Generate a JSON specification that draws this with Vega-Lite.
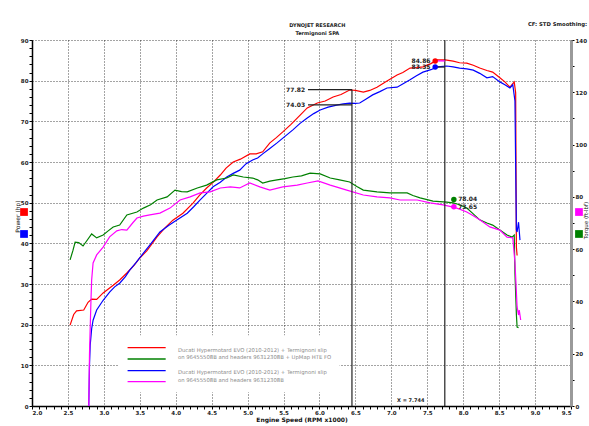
{
  "$schema": "https://vega.github.io/schema/vega-lite/v6.json",
  "width": 539,
  "height": 366,
  "autosize": {"type": "none"},
  "padding": {"left": 32, "top": 40, "right": 18, "bottom": 20},
  "background": "#ffffff",
  "config": {
    "view": {"stroke": null},
    "font": "DejaVu Sans",
    "axis": {
      "labelFont": "DejaVu Sans",
      "labelFontWeight": "bold",
      "labelFontSize": 5.5,
      "labelColor": "#222",
      "titleFont": "DejaVu Sans",
      "titleFontWeight": "bold",
      "titleFontSize": 6,
      "titleColor": "#111",
      "tickColor": "#000",
      "labelOverlap": false
    }
  },
  "datasets": {
    "curves": [
      {"rpm": 2.53, "v": 19.9, "s": "R"}, {"rpm": 2.58, "v": 22.5, "s": "R"}, {"rpm": 2.62, "v": 23.4, "s": "R"}, {"rpm": 2.72, "v": 23.6, "s": "R"}, {"rpm": 2.78, "v": 25.5, "s": "R"}, {"rpm": 2.83, "v": 26.3, "s": "R"}, {"rpm": 2.9, "v": 26.2, "s": "R"}, {"rpm": 2.99, "v": 27.8, "s": "R"}, {"rpm": 3.13, "v": 29.7, "s": "R"}, {"rpm": 3.22, "v": 31.0, "s": "R"}, {"rpm": 3.32, "v": 32.7, "s": "R"}, {"rpm": 3.42, "v": 34.6, "s": "R"}, {"rpm": 3.5, "v": 36.4, "s": "R"}, {"rpm": 3.6, "v": 38.2, "s": "R"}, {"rpm": 3.74, "v": 41.6, "s": "R"}, {"rpm": 3.85, "v": 43.8, "s": "R"}, {"rpm": 3.96, "v": 45.7, "s": "R"}, {"rpm": 4.1, "v": 47.4, "s": "R"}, {"rpm": 4.24, "v": 49.9, "s": "R"}, {"rpm": 4.33, "v": 51.8, "s": "R"}, {"rpm": 4.43, "v": 53.6, "s": "R"}, {"rpm": 4.52, "v": 55.0, "s": "R"}, {"rpm": 4.62, "v": 56.8, "s": "R"}, {"rpm": 4.7, "v": 58.5, "s": "R"}, {"rpm": 4.8, "v": 60.0, "s": "R"}, {"rpm": 4.9, "v": 60.7, "s": "R"}, {"rpm": 5.03, "v": 62.0, "s": "R"}, {"rpm": 5.12, "v": 62.0, "s": "R"}, {"rpm": 5.21, "v": 62.5, "s": "R"}, {"rpm": 5.31, "v": 64.7, "s": "R"}, {"rpm": 5.4, "v": 66.0, "s": "R"}, {"rpm": 5.49, "v": 67.4, "s": "R"}, {"rpm": 5.6, "v": 69.2, "s": "R"}, {"rpm": 5.69, "v": 70.8, "s": "R"}, {"rpm": 5.83, "v": 73.3, "s": "R"}, {"rpm": 5.97, "v": 74.5, "s": "R"}, {"rpm": 6.08, "v": 75.0, "s": "R"}, {"rpm": 6.19, "v": 76.0, "s": "R"}, {"rpm": 6.3, "v": 76.6, "s": "R"}, {"rpm": 6.42, "v": 77.7, "s": "R"}, {"rpm": 6.5, "v": 77.6, "s": "R"}, {"rpm": 6.61, "v": 77.2, "s": "R"}, {"rpm": 6.7, "v": 77.6, "s": "R"}, {"rpm": 6.8, "v": 78.4, "s": "R"}, {"rpm": 6.94, "v": 79.9, "s": "R"}, {"rpm": 7.08, "v": 81.4, "s": "R"}, {"rpm": 7.16, "v": 82.0, "s": "R"}, {"rpm": 7.26, "v": 83.1, "s": "R"}, {"rpm": 7.35, "v": 83.2, "s": "R"}, {"rpm": 7.44, "v": 83.4, "s": "R"}, {"rpm": 7.55, "v": 84.2, "s": "R"}, {"rpm": 7.64, "v": 85.1, "s": "R"}, {"rpm": 7.75, "v": 85.1, "s": "R"}, {"rpm": 7.86, "v": 84.8, "s": "R"}, {"rpm": 7.95, "v": 84.4, "s": "R"}, {"rpm": 8.05, "v": 84.3, "s": "R"}, {"rpm": 8.14, "v": 83.8, "s": "R"}, {"rpm": 8.23, "v": 83.1, "s": "R"}, {"rpm": 8.33, "v": 82.5, "s": "R"}, {"rpm": 8.41, "v": 82.1, "s": "R"}, {"rpm": 8.51, "v": 80.7, "s": "R"}, {"rpm": 8.58, "v": 79.7, "s": "R"}, {"rpm": 8.65, "v": 78.4, "s": "R"}, {"rpm": 8.71, "v": 79.7, "s": "R"}, {"rpm": 8.73, "v": 77.0, "s": "R"}, {"rpm": 8.74, "v": 39.1, "s": "R"}, {"rpm": 8.75, "v": 37.0, "s": "R"},

      {"rpm": 2.79, "v": 0, "s": "B"}, {"rpm": 2.8, "v": 10, "s": "B"}, {"rpm": 2.81, "v": 15, "s": "B"}, {"rpm": 2.83, "v": 19, "s": "B"}, {"rpm": 2.85, "v": 21.1, "s": "B"}, {"rpm": 2.9, "v": 23.6, "s": "B"}, {"rpm": 2.99, "v": 26.0, "s": "B"}, {"rpm": 3.08, "v": 28.0, "s": "B"}, {"rpm": 3.15, "v": 29.3, "s": "B"}, {"rpm": 3.22, "v": 30.2, "s": "B"}, {"rpm": 3.3, "v": 31.8, "s": "B"}, {"rpm": 3.36, "v": 33.4, "s": "B"}, {"rpm": 3.45, "v": 35.3, "s": "B"}, {"rpm": 3.55, "v": 37.6, "s": "B"}, {"rpm": 3.65, "v": 39.8, "s": "B"}, {"rpm": 3.78, "v": 42.8, "s": "B"}, {"rpm": 3.9, "v": 44.4, "s": "B"}, {"rpm": 4.01, "v": 45.7, "s": "B"}, {"rpm": 4.16, "v": 47.4, "s": "B"}, {"rpm": 4.25, "v": 49.0, "s": "B"}, {"rpm": 4.34, "v": 50.7, "s": "B"}, {"rpm": 4.43, "v": 52.3, "s": "B"}, {"rpm": 4.52, "v": 53.9, "s": "B"}, {"rpm": 4.62, "v": 55.0, "s": "B"}, {"rpm": 4.71, "v": 56.3, "s": "B"}, {"rpm": 4.8, "v": 57.2, "s": "B"}, {"rpm": 4.89, "v": 58.0, "s": "B"}, {"rpm": 4.98, "v": 59.6, "s": "B"}, {"rpm": 5.07, "v": 60.5, "s": "B"}, {"rpm": 5.14, "v": 61.0, "s": "B"}, {"rpm": 5.21, "v": 62.0, "s": "B"}, {"rpm": 5.3, "v": 63.2, "s": "B"}, {"rpm": 5.41, "v": 64.7, "s": "B"}, {"rpm": 5.52, "v": 66.3, "s": "B"}, {"rpm": 5.63, "v": 67.9, "s": "B"}, {"rpm": 5.73, "v": 69.5, "s": "B"}, {"rpm": 5.83, "v": 70.8, "s": "B"}, {"rpm": 5.92, "v": 71.9, "s": "B"}, {"rpm": 6.01, "v": 72.8, "s": "B"}, {"rpm": 6.12, "v": 73.5, "s": "B"}, {"rpm": 6.24, "v": 74.0, "s": "B"}, {"rpm": 6.33, "v": 74.3, "s": "B"}, {"rpm": 6.42, "v": 74.5, "s": "B"}, {"rpm": 6.5, "v": 74.4, "s": "B"}, {"rpm": 6.56, "v": 74.5, "s": "B"}, {"rpm": 6.65, "v": 75.5, "s": "B"}, {"rpm": 6.74, "v": 76.5, "s": "B"}, {"rpm": 6.84, "v": 77.3, "s": "B"}, {"rpm": 6.94, "v": 78.2, "s": "B"}, {"rpm": 7.08, "v": 78.4, "s": "B"}, {"rpm": 7.17, "v": 79.3, "s": "B"}, {"rpm": 7.26, "v": 80.2, "s": "B"}, {"rpm": 7.35, "v": 81.2, "s": "B"}, {"rpm": 7.44, "v": 82.1, "s": "B"}, {"rpm": 7.55, "v": 82.7, "s": "B"}, {"rpm": 7.64, "v": 83.4, "s": "B"}, {"rpm": 7.77, "v": 83.6, "s": "B"}, {"rpm": 7.86, "v": 83.4, "s": "B"}, {"rpm": 7.95, "v": 83.1, "s": "B"}, {"rpm": 8.05, "v": 82.9, "s": "B"}, {"rpm": 8.14, "v": 82.6, "s": "B"}, {"rpm": 8.23, "v": 81.8, "s": "B"}, {"rpm": 8.33, "v": 80.7, "s": "B"}, {"rpm": 8.41, "v": 81.0, "s": "B"}, {"rpm": 8.51, "v": 79.7, "s": "B"}, {"rpm": 8.58, "v": 79.0, "s": "B"}, {"rpm": 8.65, "v": 78.2, "s": "B"}, {"rpm": 8.69, "v": 79.0, "s": "B"}, {"rpm": 8.72, "v": 75.0, "s": "B"}, {"rpm": 8.74, "v": 43.3, "s": "B"}, {"rpm": 8.75, "v": 42.8, "s": "B"}, {"rpm": 8.77, "v": 45.2, "s": "B"}, {"rpm": 8.79, "v": 40.8, "s": "B"},

      {"rpm": 2.53, "v": 55.9, "s": "G"}, {"rpm": 2.57, "v": 59.5, "s": "G"}, {"rpm": 2.6, "v": 62.7, "s": "G"}, {"rpm": 2.65, "v": 62.5, "s": "G"}, {"rpm": 2.71, "v": 61.2, "s": "G"}, {"rpm": 2.77, "v": 63.5, "s": "G"}, {"rpm": 2.83, "v": 65.8, "s": "G"}, {"rpm": 2.9, "v": 64.3, "s": "G"}, {"rpm": 2.99, "v": 65.4, "s": "G"}, {"rpm": 3.06, "v": 67.0, "s": "G"}, {"rpm": 3.13, "v": 68.5, "s": "G"}, {"rpm": 3.22, "v": 69.2, "s": "G"}, {"rpm": 3.32, "v": 73.1, "s": "G"}, {"rpm": 3.46, "v": 74.2, "s": "G"}, {"rpm": 3.55, "v": 75.7, "s": "G"}, {"rpm": 3.65, "v": 77.0, "s": "G"}, {"rpm": 3.74, "v": 78.8, "s": "G"}, {"rpm": 3.88, "v": 80.0, "s": "G"}, {"rpm": 3.99, "v": 82.6, "s": "G"}, {"rpm": 4.08, "v": 82.0, "s": "G"}, {"rpm": 4.16, "v": 81.9, "s": "G"}, {"rpm": 4.3, "v": 83.4, "s": "G"}, {"rpm": 4.43, "v": 84.5, "s": "G"}, {"rpm": 4.57, "v": 86.5, "s": "G"}, {"rpm": 4.71, "v": 87.2, "s": "G"}, {"rpm": 4.8, "v": 88.4, "s": "G"}, {"rpm": 4.94, "v": 87.6, "s": "G"}, {"rpm": 5.07, "v": 87.2, "s": "G"}, {"rpm": 5.14, "v": 86.5, "s": "G"}, {"rpm": 5.21, "v": 85.3, "s": "G"}, {"rpm": 5.31, "v": 86.0, "s": "G"}, {"rpm": 5.41, "v": 86.5, "s": "G"}, {"rpm": 5.52, "v": 87.0, "s": "G"}, {"rpm": 5.63, "v": 87.6, "s": "G"}, {"rpm": 5.75, "v": 88.0, "s": "G"}, {"rpm": 5.87, "v": 89.1, "s": "G"}, {"rpm": 6.01, "v": 88.8, "s": "G"}, {"rpm": 6.15, "v": 87.2, "s": "G"}, {"rpm": 6.28, "v": 86.5, "s": "G"}, {"rpm": 6.42, "v": 85.7, "s": "G"}, {"rpm": 6.52, "v": 84.0, "s": "G"}, {"rpm": 6.61, "v": 82.6, "s": "G"}, {"rpm": 6.8, "v": 81.9, "s": "G"}, {"rpm": 6.98, "v": 81.5, "s": "G"}, {"rpm": 7.22, "v": 81.5, "s": "G"}, {"rpm": 7.3, "v": 80.5, "s": "G"}, {"rpm": 7.4, "v": 79.6, "s": "G"}, {"rpm": 7.58, "v": 78.4, "s": "G"}, {"rpm": 7.77, "v": 78.0, "s": "G"}, {"rpm": 7.86, "v": 77.7, "s": "G"}, {"rpm": 7.95, "v": 77.0, "s": "G"}, {"rpm": 8.05, "v": 75.7, "s": "G"}, {"rpm": 8.14, "v": 73.5, "s": "G"}, {"rpm": 8.23, "v": 71.2, "s": "G"}, {"rpm": 8.33, "v": 70.0, "s": "G"}, {"rpm": 8.41, "v": 69.2, "s": "G"}, {"rpm": 8.51, "v": 67.3, "s": "G"}, {"rpm": 8.61, "v": 65.4, "s": "G"}, {"rpm": 8.68, "v": 64.6, "s": "G"}, {"rpm": 8.71, "v": 65.4, "s": "G"}, {"rpm": 8.72, "v": 50.9, "s": "G"}, {"rpm": 8.74, "v": 35.0, "s": "G"}, {"rpm": 8.75, "v": 30.2, "s": "G"}, {"rpm": 8.77, "v": 30.0, "s": "G"},

      {"rpm": 2.79, "v": 0, "s": "M"}, {"rpm": 2.8, "v": 20, "s": "M"}, {"rpm": 2.82, "v": 40, "s": "M"}, {"rpm": 2.83, "v": 48.2, "s": "M"}, {"rpm": 2.85, "v": 54.7, "s": "M"}, {"rpm": 2.9, "v": 57.8, "s": "M"}, {"rpm": 2.99, "v": 60.8, "s": "M"}, {"rpm": 3.08, "v": 64.7, "s": "M"}, {"rpm": 3.18, "v": 67.0, "s": "M"}, {"rpm": 3.25, "v": 67.5, "s": "M"}, {"rpm": 3.32, "v": 67.3, "s": "M"}, {"rpm": 3.4, "v": 70.0, "s": "M"}, {"rpm": 3.46, "v": 71.9, "s": "M"}, {"rpm": 3.55, "v": 72.6, "s": "M"}, {"rpm": 3.64, "v": 73.1, "s": "M"}, {"rpm": 3.78, "v": 73.8, "s": "M"}, {"rpm": 3.92, "v": 75.7, "s": "M"}, {"rpm": 4.06, "v": 78.8, "s": "M"}, {"rpm": 4.2, "v": 80.0, "s": "M"}, {"rpm": 4.34, "v": 81.5, "s": "M"}, {"rpm": 4.48, "v": 81.9, "s": "M"}, {"rpm": 4.62, "v": 83.4, "s": "M"}, {"rpm": 4.76, "v": 83.8, "s": "M"}, {"rpm": 4.89, "v": 83.4, "s": "M"}, {"rpm": 5.03, "v": 85.3, "s": "M"}, {"rpm": 5.17, "v": 83.8, "s": "M"}, {"rpm": 5.31, "v": 82.6, "s": "M"}, {"rpm": 5.49, "v": 83.8, "s": "M"}, {"rpm": 5.69, "v": 84.5, "s": "M"}, {"rpm": 5.83, "v": 85.3, "s": "M"}, {"rpm": 5.98, "v": 86.1, "s": "M"}, {"rpm": 6.15, "v": 84.5, "s": "M"}, {"rpm": 6.38, "v": 82.6, "s": "M"}, {"rpm": 6.61, "v": 80.7, "s": "M"}, {"rpm": 6.8, "v": 80.0, "s": "M"}, {"rpm": 6.98, "v": 79.6, "s": "M"}, {"rpm": 7.12, "v": 78.8, "s": "M"}, {"rpm": 7.36, "v": 78.8, "s": "M"}, {"rpm": 7.54, "v": 77.7, "s": "M"}, {"rpm": 7.72, "v": 76.9, "s": "M"}, {"rpm": 7.86, "v": 76.1, "s": "M"}, {"rpm": 7.95, "v": 75.3, "s": "M"}, {"rpm": 8.05, "v": 74.2, "s": "M"}, {"rpm": 8.14, "v": 72.8, "s": "M"}, {"rpm": 8.23, "v": 71.2, "s": "M"}, {"rpm": 8.37, "v": 68.5, "s": "M"}, {"rpm": 8.51, "v": 67.3, "s": "M"}, {"rpm": 8.61, "v": 64.6, "s": "M"}, {"rpm": 8.69, "v": 64.3, "s": "M"}, {"rpm": 8.72, "v": 55.0, "s": "M"}, {"rpm": 8.75, "v": 37.9, "s": "M"}, {"rpm": 8.77, "v": 34.8, "s": "M"}, {"rpm": 8.78, "v": 36.7, "s": "M"}, {"rpm": 8.8, "v": 32.9, "s": "M"}
    ]
  },
  "encoding": {
    "x": {
      "field": "rpm", "type": "quantitative",
      "scale": {"domain": [2, 9.5], "nice": false, "zero": false},
      "axis": {
        "title": "Engine Speed (RPM x1000)",
        "orient": "bottom",
        "values": [2.0,2.1,2.2,2.3,2.4,2.5,2.6,2.7,2.8,2.9,3.0,3.1,3.2,3.3,3.4,3.5,3.6,3.7,3.8,3.9,4.0,4.1,4.2,4.3,4.4,4.5,4.6,4.7,4.8,4.9,5.0,5.1,5.2,5.3,5.4,5.5,5.6,5.7,5.8,5.9,6.0,6.1,6.2,6.3,6.4,6.5,6.6,6.7,6.8,6.9,7.0,7.1,7.2,7.3,7.4,7.5,7.6,7.7,7.8,7.9,8.0,8.1,8.2,8.3,8.4,8.5,8.6,8.7,8.8,8.9,9.0,9.1,9.2,9.3,9.4,9.5],
        "labelExpr": "abs(datum.value*2 - round(datum.value*2)) < 0.001 ? format(datum.value, '.1f') : ''",
        "domainColor": "#000", "domainWidth": 1.5,
        "tickSize": 3,
        "labelPadding": 1,
        "titlePadding": 1,
        "grid": true,
        "gridColor": "#000",
        "gridDash": [1, 2],
        "gridWidth": 0.8,
        "gridOpacity": {"condition": {"test": "abs(datum.value*2 - round(datum.value*2)) < 0.001", "value": 0.9}, "value": 0}
      }
    }
  },
  "layer": [
    {
      "data": {"name": "curves"},
      "transform": [{"filter": "datum.s == 'B' || datum.s == 'R'"}],
      "mark": {"type": "line", "strokeWidth": 1.2, "clip": true},
      "encoding": {
        "y": {
          "field": "v", "type": "quantitative",
          "scale": {"domain": [0, 90], "nice": false, "zero": false},
          "axis": {
            "title": "Power (hp)",
            "orient": "left",
            "values": [0,2,4,6,8,10,12,14,16,18,20,22,24,26,28,30,32,34,36,38,40,42,44,46,48,50,52,54,56,58,60,62,64,66,68,70,72,74,76,78,80,82,84,86,88,90],
            "labelExpr": "datum.value % 10 == 0 ? format(datum.value, 'd') : ''",
            "domainColor": "#000", "domainWidth": 1.5,
            "tickSize": 3,
            "labelPadding": 1,
            "titleX": -15, "titleY": 176, "titleAngle": 270, "titleAlign": "center", "titleBaseline": "middle",
            "titleFontWeight": "normal",
            "grid": true,
            "gridColor": "#000",
            "gridDash": [1, 2],
            "gridWidth": 0.8,
            "gridOpacity": {"condition": {"test": "datum.value % 10 == 0", "value": 0.9}, "value": 0}
          }
        },
        "color": {"field": "s", "type": "nominal", "scale": {"domain": ["R", "B", "G", "M"], "range": ["#ff0000", "#0000ff", "#008000", "#ff00ff"]}, "legend": null},
        "order": {"field": "rpm", "type": "quantitative"}
      }
    },
    {
      "data": {"name": "curves"},
      "transform": [{"filter": "datum.s == 'G' || datum.s == 'M'"}],
      "mark": {"type": "line", "strokeWidth": 1.2, "clip": true},
      "encoding": {
        "y": {
          "field": "v", "type": "quantitative",
          "scale": {"domain": [0, 140], "nice": false, "zero": false},
          "axis": {
            "title": "Torque (ft-lbf)",
            "orient": "right",
            "values": [0,10,20,30,40,50,60,70,80,90,100,110,120,130,140],
            "labelExpr": "datum.value % 20 == 0 ? format(datum.value, 'd') : ''",
            "domainColor": "#9a9a9a", "domainWidth": 3,
            "tickSize": 3,
            "labelPadding": 1,
            "titleX": 14, "titleY": 180, "titleAngle": 270, "titleAlign": "center", "titleBaseline": "middle",
            "titleFontWeight": "normal",
            "titleFontSize": 5.5,
            "grid": false
          }
        },
        "color": {"field": "s", "type": "nominal", "scale": {"domain": ["R", "B", "G", "M"], "range": ["#ff0000", "#0000ff", "#008000", "#ff00ff"]}, "legend": null},
        "order": {"field": "rpm", "type": "quantitative"}
      }
    },
    {
      "data": {"values": [
        {"rpm": 3.2, "rpm2": 6.28, "v": 17.4, "v2": 3.4}
      ]},
      "mark": {"type": "rect", "fill": "#ffffff", "stroke": null},
      "encoding": {
        "x2": {"field": "rpm2"},
        "y": {"field": "v", "type": "quantitative", "scale": {"domain": [0, 90], "nice": false, "zero": false}, "axis": null},
        "y2": {"field": "v2"}
      }
    },
    {
      "data": {"values": [
        {"rpm": 6.452, "rpm2": 6.452, "v": 0, "v2": 77.82},
        {"rpm": 7.744, "rpm2": 7.744, "v": 0, "v2": 90},
        {"rpm": 5.84, "rpm2": 6.452, "v": 77.82, "v2": 77.82},
        {"rpm": 5.84, "rpm2": 6.452, "v": 74.03, "v2": 74.03},
        {"rpm": 7.61, "rpm2": 7.744, "v": 83.35, "v2": 83.35}
      ]},
      "mark": {"type": "rule", "color": "#222", "strokeWidth": 1.2},
      "encoding": {
        "x2": {"field": "rpm2"},
        "y": {"field": "v", "type": "quantitative", "scale": {"domain": [0, 90], "nice": false, "zero": false}, "axis": null},
        "y2": {"field": "v2"}
      }
    },
    {
      "data": {"values": [
        {"rpm": 3.33, "rpm2": 3.86, "v": 14.33, "s": "R"},
        {"rpm": 3.33, "rpm2": 3.86, "v": 11.56, "s": "G"},
        {"rpm": 3.33, "rpm2": 3.86, "v": 8.68, "s": "B"},
        {"rpm": 3.33, "rpm2": 3.86, "v": 5.98, "s": "M"},
        {"rpm": 7.63, "rpm2": 7.744, "v": 84.86, "s": "M"}
      ]},
      "mark": {"type": "rule", "strokeWidth": 1.3},
      "encoding": {
        "x2": {"field": "rpm2"},
        "y": {"field": "v", "type": "quantitative", "scale": {"domain": [0, 90], "nice": false, "zero": false}, "axis": null},
        "color": {"field": "s", "type": "nominal", "scale": {"domain": ["R", "B", "G", "M"], "range": ["#ff0000", "#0000ff", "#008000", "#ff00ff"]}, "legend": null}
      }
    },
    {
      "data": {"values": [
        {"rpm": 7.61, "v": 84.86, "s": "R"},
        {"rpm": 7.61, "v": 83.35, "s": "B"}
      ]},
      "mark": {"type": "circle", "size": 30, "opacity": 1},
      "encoding": {
        "y": {"field": "v", "type": "quantitative", "scale": {"domain": [0, 90], "nice": false, "zero": false}, "axis": null},
        "color": {"field": "s", "type": "nominal", "scale": {"domain": ["R", "B", "G", "M"], "range": ["#ff0000", "#0000ff", "#008000", "#ff00ff"]}, "legend": null}
      }
    },
    {
      "data": {"values": [
        {"rpm": 1.889, "v": 47.7, "s": "R"},
        {"rpm": 1.889, "v": 42.3, "s": "B"},
        {"rpm": 9.611, "v": 47.7, "s": "M"},
        {"rpm": 9.611, "v": 42.3, "s": "G"}
      ]},
      "mark": {"type": "square", "size": 60, "opacity": 1},
      "encoding": {
        "y": {"field": "v", "type": "quantitative", "scale": {"domain": [0, 90], "nice": false, "zero": false}, "axis": null},
        "color": {"field": "s", "type": "nominal", "scale": {"domain": ["R", "B", "G", "M"], "range": ["#ff0000", "#0000ff", "#008000", "#ff00ff"]}, "legend": null}
      }
    },
    {
      "data": {"values": [
        {"rpm": 5.8, "v": 77.82, "t": "77.82"},
        {"rpm": 5.8, "v": 74.03, "t": "74.03"},
        {"rpm": 7.545, "v": 84.86, "t": "84.86"},
        {"rpm": 7.545, "v": 83.35, "t": "83.35"}
      ]},
      "mark": {"type": "text", "align": "right", "baseline": "middle", "fontSize": 6, "fontWeight": "bold", "color": "#222", "font": "DejaVu Sans"},
      "encoding": {
        "y": {"field": "v", "type": "quantitative", "scale": {"domain": [0, 90], "nice": false, "zero": false}, "axis": null},
        "text": {"field": "t"}
      }
    },
    {
      "data": {"values": [
        {"rpm": 5.97, "v": 93.7, "t": "DYNOJET RESEARCH"},
        {"rpm": 5.97, "v": 91.7, "t": "Termignoni SPA"},
        {"rpm": 7.27, "v": 1.5, "t": "X = 7.744"}
      ]},
      "mark": {"type": "text", "align": "center", "baseline": "middle", "fontSize": 5, "fontWeight": "bold", "color": "#222", "font": "DejaVu Sans"},
      "encoding": {
        "y": {"field": "v", "type": "quantitative", "scale": {"domain": [0, 90], "nice": false, "zero": false}, "axis": null},
        "text": {"field": "t"}
      }
    },
    {
      "data": {"values": [
        {"rpm": 8.9, "v": 93.9, "t": "CF: STD  Smoothing:"}
      ]},
      "mark": {"type": "text", "align": "left", "baseline": "middle", "fontSize": 5.3, "fontWeight": "bold", "color": "#222", "font": "DejaVu Sans"},
      "encoding": {
        "y": {"field": "v", "type": "quantitative", "scale": {"domain": [0, 90], "nice": false, "zero": false}, "axis": null},
        "text": {"field": "t"}
      }
    },
    {
      "data": {"values": [
        {"rpm": 4.03, "v": 13.77, "t": "Ducati Hypermotard EVO (2010-2012) + Termignoni slip"},
        {"rpm": 4.03, "v": 12.12, "t": "on 96455508B and headers 96312308B + UpMap HTE FO"},
        {"rpm": 4.03, "v": 8.36, "t": "Ducati Hypermotard EVO (2010-2012) + Termignoni slip"},
        {"rpm": 4.03, "v": 6.39, "t": "on 96455508B and headers 96312308B"}
      ]},
      "mark": {"type": "text", "align": "left", "baseline": "middle", "fontSize": 5.3, "color": "#8a8a8a", "font": "DejaVu Sans"},
      "encoding": {
        "y": {"field": "v", "type": "quantitative", "scale": {"domain": [0, 90], "nice": false, "zero": false}, "axis": null},
        "text": {"field": "t"}
      }
    },
    {
      "data": {"values": [
        {"rpm": 7.87, "v": 79.0, "s": "G"},
        {"rpm": 7.87, "v": 76.2, "s": "M"}
      ]},
      "mark": {"type": "circle", "size": 30, "opacity": 1},
      "encoding": {
        "y": {"field": "v", "type": "quantitative", "scale": {"domain": [0, 140], "nice": false, "zero": false}, "axis": null},
        "color": {"field": "s", "type": "nominal", "scale": {"domain": ["R", "B", "G", "M"], "range": ["#ff0000", "#0000ff", "#008000", "#ff00ff"]}, "legend": null}
      }
    },
    {
      "data": {"values": [
        {"rpm": 7.93, "v": 79.0, "t": "78.04"},
        {"rpm": 7.93, "v": 76.1, "t": "73.65"}
      ]},
      "mark": {"type": "text", "align": "left", "baseline": "middle", "fontSize": 6, "fontWeight": "bold", "color": "#222", "font": "DejaVu Sans"},
      "encoding": {
        "y": {"field": "v", "type": "quantitative", "scale": {"domain": [0, 140], "nice": false, "zero": false}, "axis": null},
        "text": {"field": "t"}
      }
    }
  ],
  "resolve": {"scale": {"y": "independent"}}
}
